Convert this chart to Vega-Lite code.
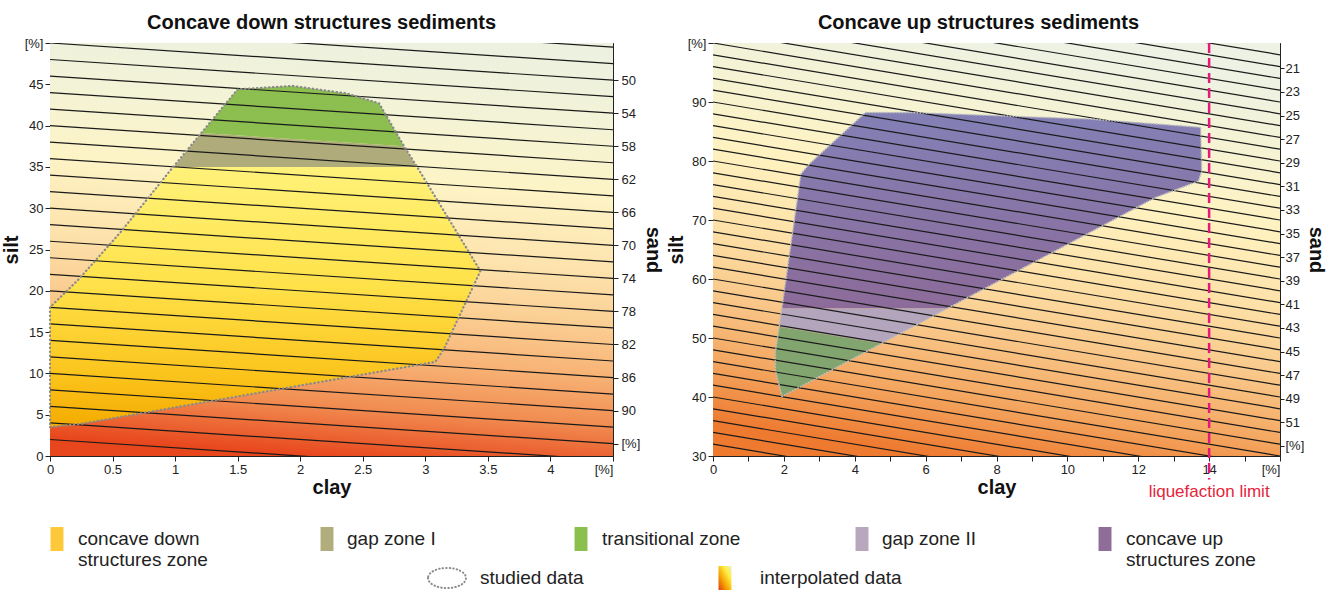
{
  "$schema": "https://vega.github.io/schema/vega-lite/v6.json",
  "background": "white",
  "padding": {"left": 0, "top": 12, "right": 0, "bottom": 0},
  "config": {
    "font": "Liberation Sans",
    "view": {"stroke": "#222", "strokeWidth": 1},
    "axis": {"domainColor": "#222", "tickColor": "#222", "labelColor": "#222", "labelFont": "Liberation Sans", "labelFontSize": 13, "titleFont": "Liberation Sans", "titleFontSize": 20, "titleFontWeight": "bold", "titleColor": "#111", "grid": false, "tickSize": 5, "labelPadding": 2, "titlePadding": 3},
    "title": {"font": "Liberation Sans", "fontSize": 20, "fontWeight": "bold", "color": "#111"}
  },
  "datasets": {
    "lzones": [
      {"zone": "cd", "clay": 0, "silt": 3.5}, {"zone": "cd", "clay": 0.25, "silt": 3.9}, {"zone": "cd", "clay": 3.08, "silt": 11.4}, {"zone": "cd", "clay": 3.15, "silt": 13}, {"zone": "cd", "clay": 3.44, "silt": 22.4}, {"zone": "cd", "clay": 2.93, "silt": 35}, {"zone": "cd", "clay": 0.99, "silt": 35}, {"zone": "cd", "clay": 0.74, "silt": 30.4}, {"zone": "cd", "clay": 0.57, "silt": 27.2}, {"zone": "cd", "clay": 0.23, "silt": 21.4}, {"zone": "cd", "clay": 0, "silt": 18},
      {"zone": "gap1", "clay": 0.99, "silt": 35}, {"zone": "gap1", "clay": 2.93, "silt": 35}, {"zone": "gap1", "clay": 2.83, "silt": 37.5}, {"zone": "gap1", "clay": 1.21, "silt": 39.1},
      {"zone": "tr", "clay": 1.21, "silt": 39.1}, {"zone": "tr", "clay": 2.83, "silt": 37.5}, {"zone": "tr", "clay": 2.63, "silt": 42.7}, {"zone": "tr", "clay": 2.37, "silt": 43.9}, {"zone": "tr", "clay": 1.94, "silt": 44.8}, {"zone": "tr", "clay": 1.5, "silt": 44.4},
      {"zone": "out", "clay": 0, "silt": 3.5}, {"zone": "out", "clay": 0.25, "silt": 3.9}, {"zone": "out", "clay": 3.08, "silt": 11.4}, {"zone": "out", "clay": 3.15, "silt": 13}, {"zone": "out", "clay": 3.44, "silt": 22.4}, {"zone": "out", "clay": 2.93, "silt": 35.1}, {"zone": "out", "clay": 2.83, "silt": 37.5}, {"zone": "out", "clay": 2.63, "silt": 42.7}, {"zone": "out", "clay": 2.37, "silt": 43.9}, {"zone": "out", "clay": 1.94, "silt": 44.8}, {"zone": "out", "clay": 1.5, "silt": 44.4}, {"zone": "out", "clay": 1.22, "silt": 39.3}, {"zone": "out", "clay": 0.99, "silt": 35.1}, {"zone": "out", "clay": 0.74, "silt": 30.4}, {"zone": "out", "clay": 0.57, "silt": 27.2}, {"zone": "out", "clay": 0.23, "silt": 21.4}, {"zone": "out", "clay": 0, "silt": 18}
    ],
    "rzones": [
      {"zone": "cu", "clay": 1.94, "silt": 55}, {"zone": "cu", "clay": 2.48, "silt": 77.8}, {"zone": "cu", "clay": 2.72, "silt": 79.5}, {"zone": "cu", "clay": 4.3, "silt": 88.2}, {"zone": "cu", "clay": 5.65, "silt": 88.2}, {"zone": "cu", "clay": 10.65, "silt": 87.1}, {"zone": "cu", "clay": 13.76, "silt": 85.7}, {"zone": "cu", "clay": 13.79, "silt": 78.3}, {"zone": "cu", "clay": 13.7, "silt": 76.6}, {"zone": "cu", "clay": 12.48, "silt": 73.8}, {"zone": "cu", "clay": 6.61, "silt": 55},
      {"zone": "gap2", "clay": 1.87, "silt": 51.9}, {"zone": "gap2", "clay": 1.94, "silt": 55}, {"zone": "gap2", "clay": 6.61, "silt": 55}, {"zone": "gap2", "clay": 4.75, "silt": 49.05},
      {"zone": "tr", "clay": 1.95, "silt": 40.1}, {"zone": "tr", "clay": 1.76, "silt": 44.5}, {"zone": "tr", "clay": 1.76, "silt": 47.6}, {"zone": "tr", "clay": 1.87, "silt": 51.9}, {"zone": "tr", "clay": 4.75, "silt": 49.05},
      {"zone": "out", "clay": 1.95, "silt": 40.1}, {"zone": "out", "clay": 1.76, "silt": 44.5}, {"zone": "out", "clay": 1.76, "silt": 47.6}, {"zone": "out", "clay": 1.87, "silt": 51.9}, {"zone": "out", "clay": 2.48, "silt": 77.8}, {"zone": "out", "clay": 2.72, "silt": 79.5}, {"zone": "out", "clay": 4.3, "silt": 88.2}, {"zone": "out", "clay": 5.65, "silt": 88.2}, {"zone": "out", "clay": 10.65, "silt": 87.1}, {"zone": "out", "clay": 13.76, "silt": 85.7}, {"zone": "out", "clay": 13.79, "silt": 78.3}, {"zone": "out", "clay": 13.7, "silt": 76.6}, {"zone": "out", "clay": 12.48, "silt": 73.8}
    ],
    "liso": [
      {"c": 2, "clay_a": 0, "silt_a": 2, "clay_b": 4.5, "silt_b": -2.5},
      {"c": 4, "clay_a": 0, "silt_a": 4, "clay_b": 4.5, "silt_b": -0.5},
      {"c": 6, "clay_a": 0, "silt_a": 6, "clay_b": 4.5, "silt_b": 1.5},
      {"c": 8, "clay_a": 0, "silt_a": 8, "clay_b": 4.5, "silt_b": 3.5},
      {"c": 10, "clay_a": 0, "silt_a": 10, "clay_b": 4.5, "silt_b": 5.5},
      {"c": 12, "clay_a": 0, "silt_a": 12, "clay_b": 4.5, "silt_b": 7.5},
      {"c": 14, "clay_a": 0, "silt_a": 14, "clay_b": 4.5, "silt_b": 9.5},
      {"c": 16, "clay_a": 0, "silt_a": 16, "clay_b": 4.5, "silt_b": 11.5},
      {"c": 18, "clay_a": 0, "silt_a": 18, "clay_b": 4.5, "silt_b": 13.5},
      {"c": 20, "clay_a": 0, "silt_a": 20, "clay_b": 4.5, "silt_b": 15.5},
      {"c": 22, "clay_a": 0, "silt_a": 22, "clay_b": 4.5, "silt_b": 17.5},
      {"c": 24, "clay_a": 0, "silt_a": 24, "clay_b": 4.5, "silt_b": 19.5},
      {"c": 26, "clay_a": 0, "silt_a": 26, "clay_b": 4.5, "silt_b": 21.5},
      {"c": 28, "clay_a": 0, "silt_a": 28, "clay_b": 4.5, "silt_b": 23.5},
      {"c": 30, "clay_a": 0, "silt_a": 30, "clay_b": 4.5, "silt_b": 25.5},
      {"c": 32, "clay_a": 0, "silt_a": 32, "clay_b": 4.5, "silt_b": 27.5},
      {"c": 34, "clay_a": 0, "silt_a": 34, "clay_b": 4.5, "silt_b": 29.5},
      {"c": 36, "clay_a": 0, "silt_a": 36, "clay_b": 4.5, "silt_b": 31.5},
      {"c": 38, "clay_a": 0, "silt_a": 38, "clay_b": 4.5, "silt_b": 33.5},
      {"c": 40, "clay_a": 0, "silt_a": 40, "clay_b": 4.5, "silt_b": 35.5},
      {"c": 42, "clay_a": 0, "silt_a": 42, "clay_b": 4.5, "silt_b": 37.5},
      {"c": 44, "clay_a": 0, "silt_a": 44, "clay_b": 4.5, "silt_b": 39.5},
      {"c": 46, "clay_a": 0, "silt_a": 46, "clay_b": 4.5, "silt_b": 41.5},
      {"c": 48, "clay_a": 0, "silt_a": 48, "clay_b": 4.5, "silt_b": 43.5},
      {"c": 50, "clay_a": 0, "silt_a": 50, "clay_b": 4.5, "silt_b": 45.5},
      {"c": 52, "clay_a": 0, "silt_a": 52, "clay_b": 4.5, "silt_b": 47.5},
      {"c": 54, "clay_a": 0, "silt_a": 54, "clay_b": 4.5, "silt_b": 49.5}
    ],
    "riso": [
      {"c": 32, "clay_a": 0, "silt_a": 32, "clay_b": 16, "silt_b": 16},
      {"c": 34, "clay_a": 0, "silt_a": 34, "clay_b": 16, "silt_b": 18},
      {"c": 36, "clay_a": 0, "silt_a": 36, "clay_b": 16, "silt_b": 20},
      {"c": 38, "clay_a": 0, "silt_a": 38, "clay_b": 16, "silt_b": 22},
      {"c": 40, "clay_a": 0, "silt_a": 40, "clay_b": 16, "silt_b": 24},
      {"c": 42, "clay_a": 0, "silt_a": 42, "clay_b": 16, "silt_b": 26},
      {"c": 44, "clay_a": 0, "silt_a": 44, "clay_b": 16, "silt_b": 28},
      {"c": 46, "clay_a": 0, "silt_a": 46, "clay_b": 16, "silt_b": 30},
      {"c": 48, "clay_a": 0, "silt_a": 48, "clay_b": 16, "silt_b": 32},
      {"c": 50, "clay_a": 0, "silt_a": 50, "clay_b": 16, "silt_b": 34},
      {"c": 52, "clay_a": 0, "silt_a": 52, "clay_b": 16, "silt_b": 36},
      {"c": 54, "clay_a": 0, "silt_a": 54, "clay_b": 16, "silt_b": 38},
      {"c": 56, "clay_a": 0, "silt_a": 56, "clay_b": 16, "silt_b": 40},
      {"c": 58, "clay_a": 0, "silt_a": 58, "clay_b": 16, "silt_b": 42},
      {"c": 60, "clay_a": 0, "silt_a": 60, "clay_b": 16, "silt_b": 44},
      {"c": 62, "clay_a": 0, "silt_a": 62, "clay_b": 16, "silt_b": 46},
      {"c": 64, "clay_a": 0, "silt_a": 64, "clay_b": 16, "silt_b": 48},
      {"c": 66, "clay_a": 0, "silt_a": 66, "clay_b": 16, "silt_b": 50},
      {"c": 68, "clay_a": 0, "silt_a": 68, "clay_b": 16, "silt_b": 52},
      {"c": 70, "clay_a": 0, "silt_a": 70, "clay_b": 16, "silt_b": 54},
      {"c": 72, "clay_a": 0, "silt_a": 72, "clay_b": 16, "silt_b": 56},
      {"c": 74, "clay_a": 0, "silt_a": 74, "clay_b": 16, "silt_b": 58},
      {"c": 76, "clay_a": 0, "silt_a": 76, "clay_b": 16, "silt_b": 60},
      {"c": 78, "clay_a": 0, "silt_a": 78, "clay_b": 16, "silt_b": 62},
      {"c": 80, "clay_a": 0, "silt_a": 80, "clay_b": 16, "silt_b": 64},
      {"c": 82, "clay_a": 0, "silt_a": 82, "clay_b": 16, "silt_b": 66},
      {"c": 84, "clay_a": 0, "silt_a": 84, "clay_b": 16, "silt_b": 68},
      {"c": 86, "clay_a": 0, "silt_a": 86, "clay_b": 16, "silt_b": 70},
      {"c": 88, "clay_a": 0, "silt_a": 88, "clay_b": 16, "silt_b": 72},
      {"c": 90, "clay_a": 0, "silt_a": 90, "clay_b": 16, "silt_b": 74},
      {"c": 92, "clay_a": 0, "silt_a": 92, "clay_b": 16, "silt_b": 76},
      {"c": 94, "clay_a": 0, "silt_a": 94, "clay_b": 16, "silt_b": 78},
      {"c": 96, "clay_a": 0, "silt_a": 96, "clay_b": 16, "silt_b": 80},
      {"c": 98, "clay_a": 0, "silt_a": 98, "clay_b": 16, "silt_b": 82},
      {"c": 100, "clay_a": 0, "silt_a": 100, "clay_b": 16, "silt_b": 84},
      {"c": 102, "clay_a": 0, "silt_a": 102, "clay_b": 16, "silt_b": 86},
      {"c": 104, "clay_a": 0, "silt_a": 104, "clay_b": 16, "silt_b": 88},
      {"c": 106, "clay_a": 0, "silt_a": 106, "clay_b": 16, "silt_b": 90},
      {"c": 108, "clay_a": 0, "silt_a": 108, "clay_b": 16, "silt_b": 92},
      {"c": 110, "clay_a": 0, "silt_a": 110, "clay_b": 16, "silt_b": 94},
      {"c": 112, "clay_a": 0, "silt_a": 112, "clay_b": 16, "silt_b": 96},
      {"c": 114, "clay_a": 0, "silt_a": 114, "clay_b": 16, "silt_b": 98}
    ],
    "legend": [
      {"key": "cd", "slot": "s0", "row": "r1", "label": "concave down\nstructures zone"},
      {"key": "gap1", "slot": "s2", "row": "r1", "label": "gap zone I"},
      {"key": "tr", "slot": "s4", "row": "r1", "label": "transitional zone"},
      {"key": "gap2", "slot": "s6", "row": "r1", "label": "gap zone II"},
      {"key": "cu", "slot": "s8", "row": "r1", "label": "concave up\nstructures zone"},
      {"key": "studied", "slot": "s3", "row": "r2", "label": "studied data"},
      {"key": "interp", "slot": "s5", "row": "r2", "label": "interpolated data"}
    ]
  },
  "spacing": 26,
  "vconcat": [
    {
      "bounds": "flush",
      "spacing": 100,
      "hconcat": [
        {
          "title": {"text": "Concave down structures sediments", "frame": "group", "dx": -10, "offset": 4},
          "width": 563,
          "height": 413,
          "resolve": {"axis": {"x": "independent", "y": "independent"}},
          "layer": [
            {
              "data": {"values": [{}]},
              "mark": {"type": "rect", "fill": {"gradient": "linear", "x1": 0.55, "y1": 0, "x2": 0.45, "y2": 1, "stops": [
                {"offset": 0, "color": "#edf1df"}, {"offset": 0.16, "color": "#f3f3d6"}, {"offset": 0.32, "color": "#fdf4c6"}, {"offset": 0.5, "color": "#fde3ad"}, {"offset": 0.62, "color": "#fbd196"}, {"offset": 0.75, "color": "#f8b477"}, {"offset": 0.87, "color": "#f18e52"}, {"offset": 1, "color": "#e8461c"}]}},
              "encoding": {
                "x": {"datum": 0, "type": "quantitative", "scale": {"domain": [0, 4.5], "nice": false}, "axis": {"title": "clay", "values": [0, 0.5, 1, 1.5, 2, 2.5, 3, 3.5, 4, 4.5], "labelExpr": "datum.value == 4.5 ? '[%]' : format(datum.value, '~g')", "labelAlign": {"condition": {"test": "datum.value == 4.5", "value": "right"}, "value": "center"}, "titlePadding": 1}},
                "x2": {"datum": 4.5},
                "y": {"datum": 0, "type": "quantitative", "scale": {"domain": [0, 50], "nice": false}, "axis": {"title": "silt", "values": [0, 5, 10, 15, 20, 25, 30, 35, 40, 45, 50], "labelExpr": "datum.value == 50 ? '[%]' : datum.label"}},
                "y2": {"datum": 50}
              }
            },
            {
              "data": {"name": "lzones"},
              "transform": [{"filter": "datum.zone == 'cd'"}],
              "mark": {"type": "line", "interpolate": "linear-closed", "strokeOpacity": 0, "fill": {"gradient": "linear", "x1": 0, "y1": 0, "x2": 0, "y2": 1, "stops": [{"offset": 0, "color": "#fff27a"}, {"offset": 0.45, "color": "#ffe24a"}, {"offset": 0.8, "color": "#fbc41c"}, {"offset": 1, "color": "#f4ab00"}]}},
              "encoding": {"x": {"field": "clay", "type": "quantitative", "scale": {"domain": [0, 4.5], "nice": false}, "axis": null}, "y": {"field": "silt", "type": "quantitative", "scale": {"domain": [0, 50], "nice": false}, "axis": null}, "order": {"value": null}}
            },
            {
              "data": {"name": "lzones"},
              "transform": [{"filter": "datum.zone == 'gap1'"}],
              "mark": {"type": "line", "interpolate": "linear-closed", "strokeOpacity": 0, "fill": "#afab7a"},
              "encoding": {"x": {"field": "clay", "type": "quantitative", "scale": {"domain": [0, 4.5], "nice": false}, "axis": null}, "y": {"field": "silt", "type": "quantitative", "scale": {"domain": [0, 50], "nice": false}, "axis": null}, "order": {"value": null}}
            },
            {
              "data": {"name": "lzones"},
              "transform": [{"filter": "datum.zone == 'tr'"}],
              "mark": {"type": "line", "interpolate": "linear-closed", "strokeOpacity": 0, "fill": "#8cbf50"},
              "encoding": {"x": {"field": "clay", "type": "quantitative", "scale": {"domain": [0, 4.5], "nice": false}, "axis": null}, "y": {"field": "silt", "type": "quantitative", "scale": {"domain": [0, 50], "nice": false}, "axis": null}, "order": {"value": null}}
            },
            {
              "data": {"name": "liso"},
              "mark": {"type": "rule", "clip": true, "color": "#1a1a1a", "strokeWidth": 1.2},
              "encoding": {
                "x": {"field": "clay_a", "type": "quantitative", "scale": {"domain": [0, 4.5], "nice": false}, "axis": null},
                "x2": {"field": "clay_b"},
                "y": {"field": "silt_a", "type": "quantitative", "scale": {"domain": [0, 50], "nice": false}, "axis": {"orient": "right", "title": "sand", "values": [45.5, 41.5, 37.5, 33.5, 29.5, 25.5, 21.5, 17.5, 13.5, 9.5, 5.5, 1.5], "labelExpr": "datum.value < 2 ? '[%]' : format(95.5 - datum.value, '.0f')", "labelPadding": 3}},
                "y2": {"field": "silt_b"}
              }
            },
            {
              "data": {"name": "lzones"},
              "transform": [{"filter": "datum.zone == 'out'"}],
              "mark": {"type": "line", "interpolate": "linear-closed", "stroke": "#8a8a8a", "strokeWidth": 2.2, "strokeDash": [0.5, 3.5], "strokeCap": "round"},
              "encoding": {"x": {"field": "clay", "type": "quantitative", "scale": {"domain": [0, 4.5], "nice": false}, "axis": null}, "y": {"field": "silt", "type": "quantitative", "scale": {"domain": [0, 50], "nice": false}, "axis": null}, "order": {"value": null}}
            }
          ]
        },
        {
          "title": {"text": "Concave up structures sediments", "frame": "group", "dx": -18, "offset": 4},
          "width": 567,
          "height": 413,
          "resolve": {"axis": {"x": "independent", "y": "independent"}},
          "layer": [
            {
              "data": {"values": [{}]},
              "mark": {"type": "rect", "fill": {"gradient": "linear", "x1": 0.6, "y1": 0, "x2": 0.4, "y2": 1, "stops": [
                {"offset": 0, "color": "#edf2e4"}, {"offset": 0.2, "color": "#f6f3d2"}, {"offset": 0.36, "color": "#fff2c0"}, {"offset": 0.55, "color": "#fde0a6"}, {"offset": 0.7, "color": "#f9c88a"}, {"offset": 0.85, "color": "#f4a862"}, {"offset": 1, "color": "#ee7a30"}]}},
              "encoding": {
                "x": {"datum": 0, "type": "quantitative", "scale": {"domain": [0, 16], "nice": false}, "axis": {"title": "clay", "values": [0, 1, 2, 3, 4, 5, 6, 7, 8, 9, 10, 11, 12, 13, 14, 15, 16], "labelExpr": "datum.value == 16 ? '[%]' : (datum.value % 2 == 0 ? datum.label : '')", "labelAlign": {"condition": {"test": "datum.value == 16", "value": "right"}, "value": "center"}, "titlePadding": 1}},
                "x2": {"datum": 16},
                "y": {"datum": 30, "type": "quantitative", "scale": {"domain": [30, 100], "nice": false, "zero": false}, "axis": {"title": "silt", "values": [30, 40, 50, 60, 70, 80, 90, 100], "labelExpr": "datum.value == 100 ? '[%]' : datum.label", "titlePadding": 1}},
                "y2": {"datum": 100}
              }
            },
            {
              "data": {"name": "rzones"},
              "transform": [{"filter": "datum.zone == 'cu'"}],
              "mark": {"type": "line", "interpolate": "linear-closed", "strokeOpacity": 0, "fill": {"gradient": "linear", "x1": 0, "y1": 0, "x2": 0, "y2": 1, "stops": [{"offset": 0, "color": "#8380b6"}, {"offset": 1, "color": "#8c6b99"}]}},
              "encoding": {"x": {"field": "clay", "type": "quantitative", "scale": {"domain": [0, 16], "nice": false}, "axis": null}, "y": {"field": "silt", "type": "quantitative", "scale": {"domain": [30, 100], "nice": false, "zero": false}, "axis": null}, "order": {"value": null}}
            },
            {
              "data": {"name": "rzones"},
              "transform": [{"filter": "datum.zone == 'gap2'"}],
              "mark": {"type": "line", "interpolate": "linear-closed", "strokeOpacity": 0, "fill": "#b3a6bc"},
              "encoding": {"x": {"field": "clay", "type": "quantitative", "scale": {"domain": [0, 16], "nice": false}, "axis": null}, "y": {"field": "silt", "type": "quantitative", "scale": {"domain": [30, 100], "nice": false, "zero": false}, "axis": null}, "order": {"value": null}}
            },
            {
              "data": {"name": "rzones"},
              "transform": [{"filter": "datum.zone == 'tr'"}],
              "mark": {"type": "line", "interpolate": "linear-closed", "strokeOpacity": 0, "fill": "#82a46f"},
              "encoding": {"x": {"field": "clay", "type": "quantitative", "scale": {"domain": [0, 16], "nice": false}, "axis": null}, "y": {"field": "silt", "type": "quantitative", "scale": {"domain": [30, 100], "nice": false, "zero": false}, "axis": null}, "order": {"value": null}}
            },
            {
              "data": {"name": "riso"},
              "mark": {"type": "rule", "clip": true, "color": "#1a1a1a", "strokeWidth": 1.2},
              "encoding": {
                "x": {"field": "clay_a", "type": "quantitative", "scale": {"domain": [0, 16], "nice": false}, "axis": null},
                "x2": {"field": "clay_b"},
                "y": {"field": "silt_a", "type": "quantitative", "scale": {"domain": [30, 100], "nice": false, "zero": false}, "axis": {"orient": "right", "title": "sand", "values": [95.7, 91.7, 87.7, 83.7, 79.7, 75.7, 71.7, 67.7, 63.7, 59.7, 55.7, 51.7, 47.7, 43.7, 39.7, 35.7, 31.7], "labelExpr": "datum.value < 33 ? '[%]' : format((137.7 - datum.value) / 2, '.0f')", "tickSize": 4, "labelPadding": 1, "titlePadding": 2}},
                "y2": {"field": "silt_b"}
              }
            },
            {
              "data": {"name": "rzones"},
              "transform": [{"filter": "datum.zone == 'out'"}],
              "mark": {"type": "line", "interpolate": "linear-closed", "stroke": "#bdbdbd", "strokeWidth": 1.6, "strokeDash": [0.5, 2.5], "strokeCap": "round"},
              "encoding": {"x": {"field": "clay", "type": "quantitative", "scale": {"domain": [0, 16], "nice": false}, "axis": null}, "y": {"field": "silt", "type": "quantitative", "scale": {"domain": [30, 100], "nice": false, "zero": false}, "axis": null}, "order": {"value": null}}
            },
            {
              "data": {"values": [{}]},
              "mark": {"type": "rule", "clip": false, "color": "#e6197a", "strokeWidth": 2.5, "strokeDash": [10, 5]},
              "encoding": {"x": {"datum": 14, "type": "quantitative", "scale": {"domain": [0, 16], "nice": false}, "axis": null}, "y": {"datum": 100, "type": "quantitative", "scale": {"domain": [30, 100], "nice": false, "zero": false}, "axis": null}, "y2": {"datum": 26}}
            },
            {
              "data": {"values": [{}]},
              "mark": {"type": "text", "clip": false, "color": "#e5243b", "font": "Liberation Sans", "fontSize": 17, "align": "center", "baseline": "middle"},
              "encoding": {"x": {"datum": 14, "type": "quantitative", "scale": {"domain": [0, 16], "nice": false}, "axis": null}, "y": {"datum": 23.9, "type": "quantitative", "scale": {"domain": [30, 100], "nice": false, "zero": false}, "axis": null}, "text": {"value": "liquefaction limit"}}
            }
          ]
        }
      ]
    },
    {
      "width": 1062,
      "height": 39,
      "view": {"stroke": null},
      "data": {"name": "legend"},
      "encoding": {
        "x": {"field": "slot", "type": "ordinal", "scale": {"type": "point", "domain": ["s0", "s1", "s2", "s3", "s4", "s5", "s6", "s7", "s8"], "padding": 0.0534}, "axis": null},
        "y": {"field": "row", "type": "ordinal", "scale": {"type": "point", "domain": ["r1", "r2"], "padding": 0}, "axis": null}
      },
      "layer": [
        {
          "transform": [{"filter": "indexof(['cd', 'tr', 'cu'], datum.key) >= 0"}],
          "mark": {"type": "point", "filled": true, "opacity": 1, "size": 576, "shape": "M-0.54,-1H0.54V1H-0.54Z", "strokeWidth": 0},
          "encoding": {"fill": {"field": "key", "type": "nominal", "scale": {"domain": ["cd", "gap1", "tr", "gap2", "cu"], "range": ["#fdc83a", "#b1ad7c", "#8cc04e", "#b8a7bd", "#8e6e98"]}, "legend": null}}
        },
        {
          "transform": [{"filter": "datum.key == 'gap1'"}],
          "mark": {"type": "point", "filled": true, "opacity": 1, "size": 576, "shape": "M-0.54,-1H0.54V1H-0.54Z", "strokeWidth": 0, "fill": "#b1ad7c", "xOffset": 8}
        },
        {
          "transform": [{"filter": "datum.key == 'gap2'"}],
          "mark": {"type": "point", "filled": true, "opacity": 1, "size": 576, "shape": "M-0.54,-1H0.54V1H-0.54Z", "strokeWidth": 0, "fill": "#b8a7bd", "xOffset": 19}
        },
        {
          "transform": [{"filter": "datum.key == 'studied'"}],
          "mark": {"type": "point", "filled": false, "opacity": 1, "size": 1444, "shape": "M-1,0A1,0.53,0,1,0,1,0A1,0.53,0,1,0,-1,0Z", "stroke": "#8a8a8a", "strokeWidth": 2, "strokeDash": [0.5, 3], "strokeCap": "round", "xOffset": -3}
        },
        {
          "transform": [{"filter": "datum.key == 'interp'"}],
          "mark": {"type": "point", "filled": true, "opacity": 1, "size": 576, "shape": "M-0.54,-1H0.54V1H-0.54Z", "strokeWidth": 0, "xOffset": 13, "fill": {"gradient": "linear", "x1": 1, "y1": 0, "x2": 0, "y2": 1, "stops": [{"offset": 0, "color": "#e9f2c8"}, {"offset": 0.3, "color": "#ffee40"}, {"offset": 0.65, "color": "#f5a000"}, {"offset": 1, "color": "#e03a10"}]}}
        },
        {
          "transform": [{"filter": "indexof(['cd', 'tr', 'cu'], datum.key) >= 0"}],
          "mark": {"type": "text", "align": "left", "baseline": "middle", "dx": 21, "font": "Liberation Sans", "fontSize": 19, "color": "#222", "lineBreak": "\n", "lineHeight": 21},
          "encoding": {"text": {"field": "label"}}
        },
        {
          "transform": [{"filter": "datum.key == 'gap1'"}],
          "mark": {"type": "text", "align": "left", "baseline": "middle", "dx": 28, "font": "Liberation Sans", "fontSize": 19, "color": "#222"},
          "encoding": {"text": {"field": "label"}}
        },
        {
          "transform": [{"filter": "datum.key == 'gap2'"}],
          "mark": {"type": "text", "align": "left", "baseline": "middle", "dx": 39, "font": "Liberation Sans", "fontSize": 19, "color": "#222"},
          "encoding": {"text": {"field": "label"}}
        },
        {
          "transform": [{"filter": "datum.key == 'studied'"}],
          "mark": {"type": "text", "align": "left", "baseline": "middle", "dx": 30, "font": "Liberation Sans", "fontSize": 19, "color": "#222"},
          "encoding": {"text": {"field": "label"}}
        },
        {
          "transform": [{"filter": "datum.key == 'interp'"}],
          "mark": {"type": "text", "align": "left", "baseline": "middle", "dx": 48, "font": "Liberation Sans", "fontSize": 19, "color": "#222"},
          "encoding": {"text": {"field": "label"}}
        }
      ]
    }
  ]
}
